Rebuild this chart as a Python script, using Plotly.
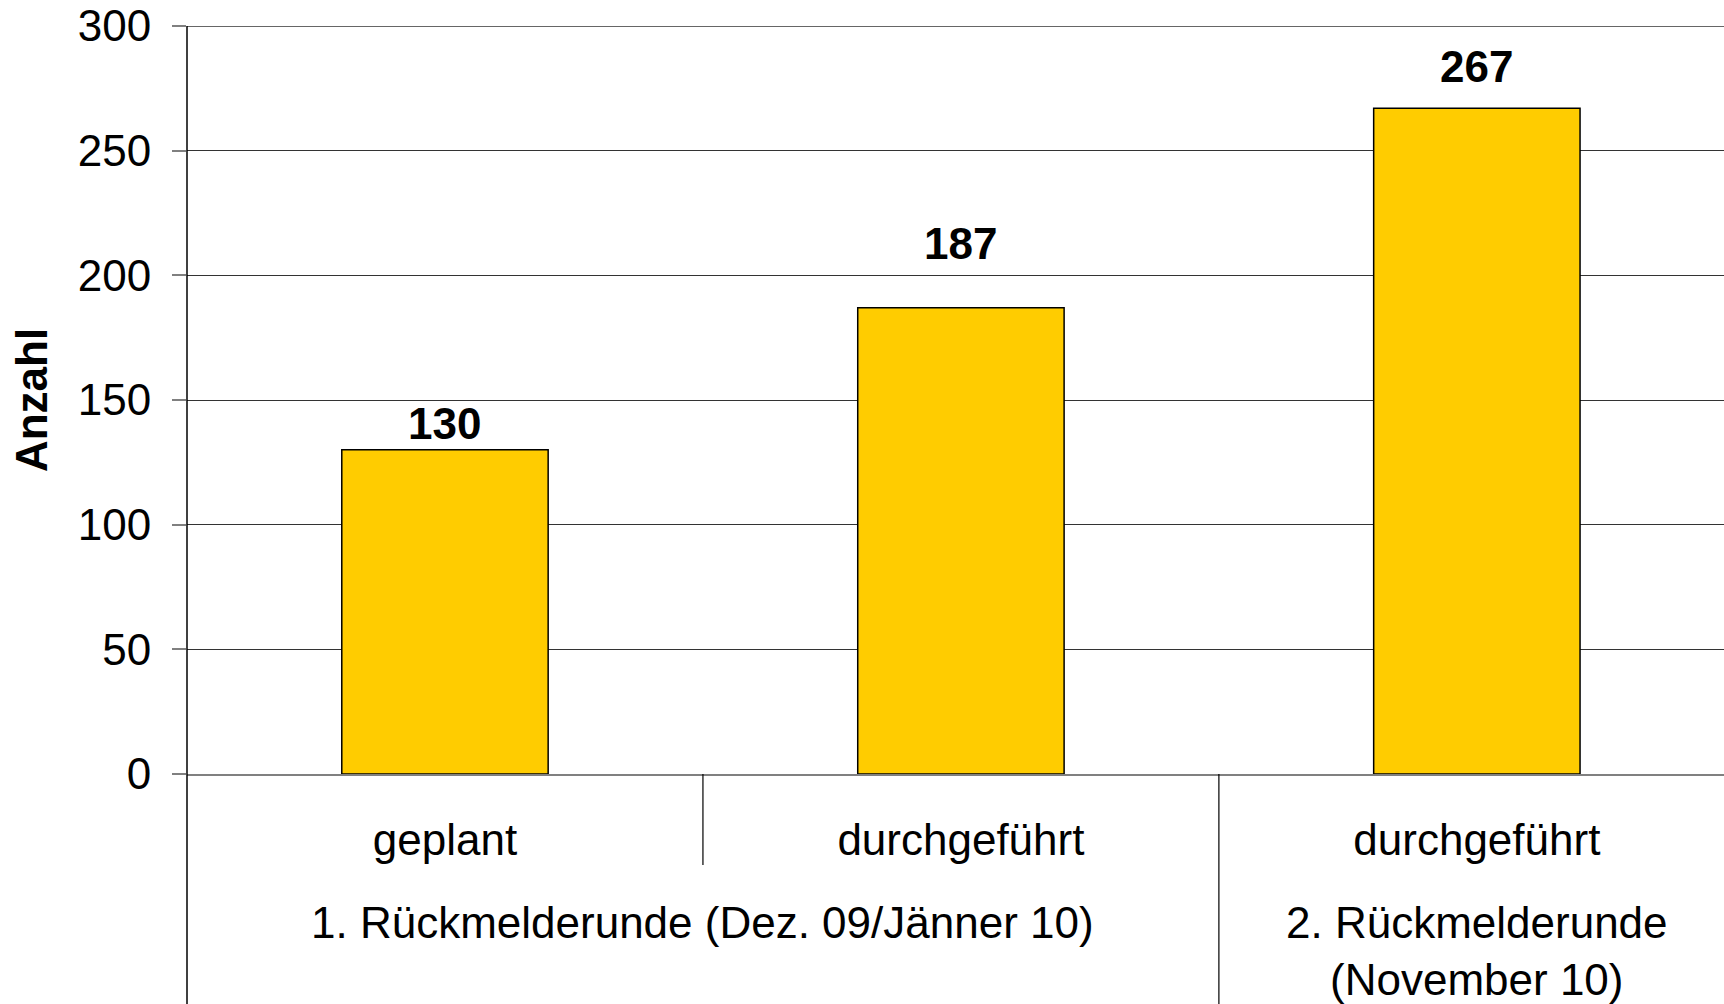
import plotly.graph_objects as go

# Data
categories = ["geplant", "durchgeführt", "durchgeführt"]
groups = ["1. Rückmelderunde (Dez. 09/Jänner 10)", "2. Rückmelderunde<br>(November 10)"]
group_members = [[0, 1], [2]]
values = [130, 187, 267]
y_title = "Anzahl"
y_ticks = [0, 50, 100, 150, 200, 250, 300]

# Style: label offsets above bar tops (px)
label_shift = [26, 64, 42]

FONT = "Liberation Sans, Arial, sans-serif"
FS = 44
xs = list(range(len(categories)))

fig = go.Figure()
fig.add_trace(go.Bar(
    x=xs, y=values, width=0.4,
    marker=dict(color="#FFCC00", line=dict(color="#000000", width=1.5)),
    hoverinfo="skip",
))

for x, v, s in zip(xs, values, label_shift):
    fig.add_annotation(x=x, y=v, text=f"<b>{v}</b>", showarrow=False,
                       yshift=s, yanchor="middle",
                       font=dict(family=FONT, size=FS, color="#000000"))

# group labels
for g, mem in zip(groups, group_members):
    cx = sum(mem) / len(mem)
    fig.add_annotation(x=cx, xref="x", y=-122 / 748, yref="paper",
                       text=g, showarrow=False, yanchor="top",
                       font=dict(family=FONT, size=FS, color="#000000"))

# top frame line
fig.add_shape(type="line", xref="paper", yref="y", x0=0, x1=1,
              y0=max(y_ticks), y1=max(y_ticks), line=dict(color="#333333", width=1.5))

# dividers
fig.add_shape(type="line", xref="x", yref="paper", x0=0.5, x1=0.5,
              y0=0, y1=-91 / 748, line=dict(color="#000000", width=1.2))
fig.add_shape(type="line", xref="x", yref="paper", x0=1.5, x1=1.5,
              y0=0, y1=-240 / 748, line=dict(color="#000000", width=1.2))
fig.add_shape(type="line", xref="paper", yref="paper", x0=0, x1=0,
              y0=1, y1=-240 / 748, line=dict(color="#000000", width=1.5))

fig.update_layout(
    width=1724, height=1004,
    margin=dict(l=187, r=0, t=26, b=230),
    paper_bgcolor="white", plot_bgcolor="white",
    showlegend=False,
    font=dict(family=FONT, size=FS, color="#000000"),
    xaxis=dict(
        range=[-0.5, 2.479], tickmode="array", tickvals=xs, ticktext=categories,
        showgrid=False, zeroline=False, showline=True, linecolor="#808080", linewidth=2,
        ticks="", ticklabelstandoff=26,
        tickfont=dict(family=FONT, size=FS, color="#000000"),
    ),
    yaxis=dict(
        range=[0, 300], tickmode="array", tickvals=y_ticks,
        showgrid=True, gridcolor="#333333", gridwidth=1.3,
        zeroline=False, showline=False,
        ticks="outside", ticklen=14, tickcolor="#808080", tickwidth=1.5,
        ticklabelstandoff=12,
        tickfont=dict(family=FONT, size=FS, color="#000000"),
        title=dict(text=f"<b>{y_title}</b>", standoff=16,
                   font=dict(family=FONT, size=FS, color="#000000")),
    ),
)

fig.write_html("out.html")
